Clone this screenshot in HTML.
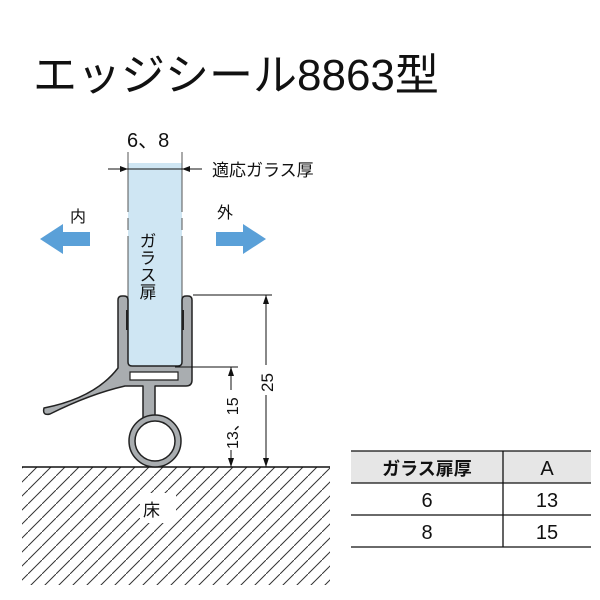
<!DOCTYPE html>
<html><head><meta charset="utf-8"><style>
body{margin:0;background:#fff;width:600px;height:600px;overflow:hidden}
svg{display:block}
text{font-family:"Liberation Sans","Noto Sans CJK JP",sans-serif}
</style></head><body>
<svg width="600" height="600" viewBox="0 0 600 600">
<defs>
<pattern id="h" width="14" height="14" patternUnits="userSpaceOnUse">
<line x1="0" y1="14" x2="14" y2="0" stroke="#333" stroke-width="1"/>
</pattern>
</defs>
<text x="33" y="90" font-size="44" fill="#111">エッジシール8863型</text>

<!-- floor -->
<rect x="22" y="467" width="308" height="118" fill="url(#h)"/>
<rect x="140" y="493" width="36" height="30" fill="#fff"/>
<line x1="22" y1="467" x2="330" y2="467" stroke="#111" stroke-width="1.5"/>
<text x="143" y="516" font-size="17" fill="#111">床</text>

<!-- glass -->
<rect x="128" y="163" width="54" height="205" fill="#cfe6f3"/>
<line x1="128" y1="152" x2="128" y2="368" stroke="#555" stroke-dasharray="60,6,12,6,400" stroke-width="1"/>
<line x1="182" y1="152" x2="182" y2="368" stroke="#555" stroke-dasharray="60,6,12,6,400" stroke-width="1"/>
<text x="127" y="147" font-size="20" fill="#111">6、8</text>
<line x1="108" y1="169" x2="202" y2="169" stroke="#111"/>
<path d="M128 169 l-8 -3 v6z M182 169 l8 -3 v6z" fill="#111"/>
<text x="212" y="176" font-size="17" fill="#111">適応ガラス厚</text>
<text x="146" y="232" font-size="17" fill="#111" writing-mode="tb">ガラス扉</text>

<!-- arrows -->
<text x="70" y="222" font-size="16" fill="#111">内</text>
<text x="217" y="218" font-size="16" fill="#111">外</text>
<path d="M90 232 h-27 v-8 l-23 15 23 15 v-8 h27z" fill="#5aa0d8"/>
<path d="M216 232 h27 v-8 l23 15 -23 15 v-8 h-27z" fill="#5aa0d8"/>

<!-- seal -->
<g fill="#a9adb0" stroke="#222" stroke-width="1.5" stroke-linejoin="round">
<path d="M118 300 q0 -4 4 -4 h2 q4 0 4 4 v62 q0 4 4 4 h46 q4 0 4 -4 v-62 q0 -4 4 -4 h2 q4 0 4 4 v80 q0 6 -6 6 h-31 v32 h-12 v-32 h-18 Q90 394 50 414 q-8 2 -6 -6 Q95 398 118 368 Z"/>
<circle cx="155" cy="441" r="26"/>
</g>
<circle cx="155" cy="441" r="20" fill="#fff" stroke="#222" stroke-width="1.5"/>
<path d="M130 372 h48 v8 h-48z" fill="#fff" stroke="#222" stroke-width="1.2"/>
<g stroke="#222" stroke-width="2"><line x1="127" y1="310" x2="127" y2="330"/><line x1="183" y1="310" x2="183" y2="330"/></g>

<!-- dims -->
<g stroke="#111" stroke-width="1">
<line x1="193" y1="295" x2="272" y2="295"/>
<line x1="266" y1="295" x2="266" y2="467"/>
<line x1="175" y1="367" x2="238" y2="367"/>
<line x1="231" y1="367" x2="231" y2="467"/>
</g>
<path d="M266 295 l-3 9 h6z M266 467 l-3 -9 h6z M231 367 l-3 9 h6z M231 467 l-3 -9 h6z" fill="#111"/>
<rect x="258" y="365" width="16" height="30" fill="#fff"/>
<text transform="translate(273,392) rotate(-90)" font-size="17" fill="#111">25</text>
<rect x="223" y="390" width="16" height="60" fill="#fff"/>
<text transform="translate(238,449) rotate(-90)" font-size="16" fill="#111">13、15</text>

<!-- table -->
<rect x="351" y="451" width="240" height="32" fill="#e6e6e6"/>
<g stroke="#111" stroke-width="1.3">
<line x1="351" y1="451" x2="591" y2="451"/>
<line x1="351" y1="483" x2="591" y2="483"/>
<line x1="351" y1="515" x2="591" y2="515"/>
<line x1="351" y1="547" x2="591" y2="547"/>
<line x1="503" y1="451" x2="503" y2="547"/>
</g>
<g font-size="20" fill="#111" text-anchor="middle">
<text x="427" y="475" font-weight="bold" font-size="18">ガラス扉厚</text>
<text x="547" y="475">A</text>
<text x="427" y="507">6</text><text x="547" y="507">13</text>
<text x="427" y="539">8</text><text x="547" y="539">15</text>
</g>
</svg>
</body></html>
